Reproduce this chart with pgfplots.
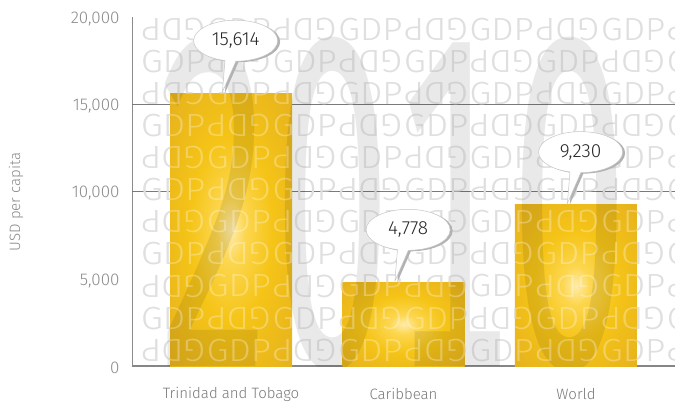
\documentclass[border=0pt]{standalone}
\usepackage{fontspec}
\setmainfont{Fira Sans Light}[Numbers=Lining]
\newfontfamily\wmfont{Fira Sans}[Numbers={Lining,Monospaced}]
\usepackage{graphicx}
\usepackage{pgfplots}
\pgfplotsset{compat=1.18}
\usetikzlibrary{shapes.callouts,shadows}

\definecolor{tickgray}{HTML}{8A8A8A}
\definecolor{gridgray}{HTML}{7A7A7A}
\definecolor{gpat}{HTML}{D2D2D2}
\definecolor{gHi}{HTML}{FFEBAA}
\definecolor{gHiB}{HTML}{FCD64E}
\definecolor{gMid}{HTML}{F5C417}
\definecolor{gOut}{HTML}{E7B31D}
\definecolor{gEdge}{HTML}{DBA627}
\pgfdeclareradialshading{goldbar}{\pgfpoint{0bp}{0bp}}{color(0bp)=(gHi); color(6bp)=(gHiB); color(17bp)=(gMid); color(34bp)=(gOut); color(50bp)=(gEdge); color(72bp)=(gEdge)}

\newcommand\gdpword{\makebox[65.7pt][l]{\rule{0pt}{24pt}\scalebox{1.1}[1]{GDP}}}
\newcommand\pdgword{\makebox[65.7pt][l]{\rule{0pt}{24pt}\rotatebox[origin=c]{180}{\scalebox{1.1}[1]{GDP}}}}
\newcommand\rowA{\pdgword\gdpword\pdgword\gdpword\pdgword\gdpword\pdgword\gdpword\pdgword}
\newcommand\rowB{\gdpword\pdgword\gdpword\pdgword\gdpword\pdgword\gdpword\pdgword\gdpword}
\newcommand\gdppattern{\vbox{\baselineskip=32.1pt\lineskiplimit=-50pt\lineskip=0pt
 \hbox{\rowA}\hbox{\rowB}\hbox{\rowA}\hbox{\rowB}\hbox{\rowA}\hbox{\rowB}
 \hbox{\rowA}\hbox{\rowB}\hbox{\rowA}\hbox{\rowB}\hbox{\rowA}}}

\pgfplotsset{/pgf/number format/.cd, 1000 sep={,}, assume math mode=true}

\begin{document}
\begin{tikzpicture}
\begin{axis}[
  at={(0,0)}, anchor=south west,
  scale only axis, width=543pt, height=349pt,
  xmin=-0.574, xmax=2.574, ymin=0, ymax=20000,
  axis x line*=bottom, axis y line*=left,
  y axis line style={draw=gray!90, line width=0.8pt},
  x axis line style={draw=gray!95, line width=1.1pt},
  xtick={0,1,2},
  xticklabels={Trinidad and Tobago, Caribbean, World},
  ytick={0,5000,10000,15000,20000},
  scaled y ticks=false,
  major tick length=0pt,
  tick style={draw=none},
  yticklabel style={font=\fontsize{17}{17}\selectfont, text=tickgray, anchor=east, xshift=-9pt, yshift=-2pt},
  xticklabel style={font=\fontsize{15}{15}\selectfont, text=gray!95!black, anchor=center, yshift=-28pt},
  extra y ticks={10000,15000},
  extra y tick labels={},
  extra y tick style={grid=major, major grid style={draw=gridgray, line width=0.7pt}, tick style={draw=none}},
  ylabel={USD per capita},
  ylabel style={at={(axis description cs:-0.2136,0.47)}, anchor=center, font=\fontsize{15}{15}\selectfont, text=tickgray},
]
% grey background pattern
\node[anchor=north west, inner sep=0pt, text=gpat] at (rel axis cs:0.0166,1.0029) {\fontsize{32}{32}\selectfont\gdppattern};

\addplot[ybar, bar width=122pt, bar shift=0pt, draw=none, shade, shading=goldbar] coordinates {(0,15614)};
\addplot[ybar, bar width=122pt, bar shift=0pt, draw=none, shade, shading=goldbar] coordinates {(1,4778)};
\addplot[ybar, bar width=122pt, bar shift=0pt, draw=none, shade, shading=goldbar] coordinates {(2,9230)};

% 2010 watermark
\node[anchor=base, inner sep=0pt, text=black, text opacity=0.085] at (rel axis cs:0.479,0) {\wmfont\fontsize{470}{470}\selectfont\scalebox{0.45}[1]{2010}};
% light pattern over bars
\node[anchor=north west, inner sep=0pt, text=white, text opacity=0.3] at (rel axis cs:0.0166,1.0029) {\fontsize{32}{32}\selectfont\gdppattern};

\addplot[draw=none, mark=none, nodes near coords, point meta=y,
  every node near coord/.append style={shape=ellipse callout, anchor=pointer,
    callout relative pointer={(-8pt,-31pt)}, xshift=-9pt, fill=white, draw=gray!45, line width=0.5pt,
    minimum width=84pt, minimum height=41pt, inner sep=0pt,
    font=\fontsize{19}{19}\selectfont, text=black!85,
    drop shadow={shadow xshift=2.5pt, shadow yshift=-1pt, fill=gray!60, opacity=1}}]
  coordinates {(0,15614) (1,4778) (2,9230)};
\end{axis}
\pgfresetboundingbox
\useasboundingbox (-132pt,-39pt) rectangle (543pt,366pt);
\end{tikzpicture}
\end{document}
